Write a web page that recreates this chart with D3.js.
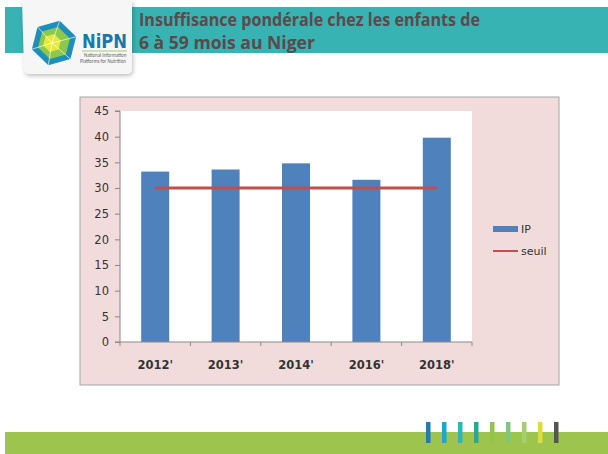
<!DOCTYPE html>
<html>
<head>
<meta charset="utf-8">
<script src="https://cdn.jsdelivr.net/npm/d3@7"></script>
<style>
  body { margin: 0; background: #fff; }
  svg { display: block; font-family: Calibri, Carlito, "Liberation Sans", Arial, sans-serif; }
</style>
</head>
<body>
<div id="chart"></div>
<script>
// Data
const years = ["2012'", "2013'", "2014'", "2016'", "2018'"]
const ipValues = [33.2, 33.6, 34.8, 31.6, 39.8]
const seuilValues = [30, 30, 30, 30, 30]
const yTicks = [0, 5, 10, 15, 20, 25, 30, 35, 40, 45]
const titleLines = ['Insuffisance pondérale chez les enfants de', '6 à 59 mois au Niger']
const stripeColors = ['#1b7fb1', '#1ea7c9', '#2cb6b6', '#2aa78f', '#93c54b', '#7ec77c', '#a3cf6c', '#dadd3d', '#555555']

const width = 608
const height = 454

const svg = d3.select('#chart')
  .append('svg')
  .attr('width', width)
  .attr('height', height)

// Header band
svg.append('rect')
  .attr('x', 5).attr('y', 7)
  .attr('width', width - 5).attr('height', 46)
  .attr('fill', '#37b3b4')

// Logo card with soft shadow
const defs = svg.append('defs')
const shadow = defs.append('filter').attr('id', 'shadow')
shadow.append('feDropShadow')
  .attr('dx', 1).attr('dy', 2).attr('stdDeviation', 2)
  .attr('flood-color', '#000').attr('flood-opacity', 0.25)

svg.append('path')
  .attr('d', 'M22,0 L132,0 L132,68 Q132,74 126,74 L30,74 Q24,74 24,68 Z')
  .attr('fill', '#f6f6f6')
  .attr('filter', 'url(#shadow)')

// Hexagon logo
const hex = svg.append('g').attr('transform', 'translate(54,43)')
const hexPts = d3.range(6).map(i => {
  const a = Math.PI / 3 * i - Math.PI / 2 + 0.25
  return [Math.cos(a) * 23, Math.sin(a) * 23]
})
hex.append('polygon').attr('points', hexPts.join(' ')).attr('fill', '#1d8fb8')
const inner = hexPts.map(p => [p[0] * 0.72, p[1] * 0.72])
hex.append('polygon').attr('points', inner.join(' ')).attr('fill', '#8cc84b')
const inner2 = hexPts.map(p => [p[0] * 0.4 - 2, p[1] * 0.4])
hex.append('polygon').attr('points', inner2.join(' ')).attr('fill', '#e6e93c')
hexPts.forEach(p => {
  hex.append('line')
    .attr('x1', -2).attr('y1', 0)
    .attr('x2', p[0]).attr('y2', p[1])
    .attr('stroke', '#fff').attr('stroke-width', 0.8).attr('opacity', 0.8)
})

svg.append('text')
  .text('NiPN')
  .attr('x', 82).attr('y', 48)
  .attr('font-size', 20).attr('font-weight', 'bold')
  .attr('font-family', '"DejaVu Sans", sans-serif')
  .attr('textLength', 45).attr('lengthAdjust', 'spacingAndGlyphs')
  .attr('fill', '#1a78ad')
svg.append('line')
  .attr('x1', 82).attr('x2', 127).attr('y1', 51).attr('y2', 51)
  .attr('stroke', '#8cc84b').attr('stroke-width', 0.8)
svg.append('text')
  .text('National Information')
  .attr('x', 84).attr('y', 57)
  .attr('font-size', 5).attr('fill', '#666')
svg.append('text')
  .text('Platforms for Nutrition')
  .attr('x', 80).attr('y', 63)
  .attr('font-size', 5).attr('fill', '#666')

// Title
svg.selectAll('.title')
  .data(titleLines)
  .join('text')
  .attr('class', 'title')
  .text(d => d)
  .attr('x', 139)
  .attr('y', (d, i) => 26 + i * 23)
  .attr('font-family', '"Open Sans", "DejaVu Sans", sans-serif')
  .attr('font-weight', 'bold')
  .attr('font-size', 18)
  .attr('textLength', (d, i) => i === 0 ? 341 : 176)
  .attr('lengthAdjust', 'spacingAndGlyphs')
  .attr('fill', '#5b4a4c')

// Chart frame
svg.append('rect')
  .attr('x', 80).attr('y', 97)
  .attr('width', 479).attr('height', 288)
  .attr('fill', '#f2dcdb')
  .attr('stroke', '#a6a6a6')
  .attr('stroke-width', 1)

const plot = { left: 120, top: 111, right: 472, bottom: 342 }

svg.append('rect')
  .attr('x', plot.left).attr('y', plot.top)
  .attr('width', plot.right - plot.left)
  .attr('height', plot.bottom - plot.top)
  .attr('fill', '#fff')

const xc = d3.scalePoint()
  .domain(years)
  .range([plot.left, plot.right])
  .padding(0.5)

const y = d3.scaleLinear()
  .domain([0, 45])
  .range([plot.bottom, plot.top])

// Bars
svg.selectAll('.bar')
  .data(ipValues)
  .join('rect')
  .attr('class', 'bar')
  .attr('x', (d, i) => xc(years[i]) - 14)
  .attr('width', 28)
  .attr('y', d => y(d))
  .attr('height', d => y(0) - y(d))
  .attr('fill', '#4f81bd')

// Seuil line
const line = d3.line()
  .x((d, i) => xc(years[i]))
  .y(d => y(d))

svg.append('path')
  .datum(seuilValues)
  .attr('d', line)
  .attr('fill', 'none')
  .attr('stroke', '#c0504d')
  .attr('stroke-width', 3)

// Y axis
const yAxis = svg.append('g')
  .attr('transform', `translate(${plot.left},0)`)
  .call(d3.axisLeft(y).tickValues(yTicks).tickSize(5).tickPadding(6))
yAxis.select('.domain').attr('stroke', '#888').attr('d', `M-5,${plot.top}H0V${plot.bottom}H-5`)
yAxis.selectAll('.tick line').attr('stroke', '#888')
yAxis.selectAll('text')
  .attr('font-size', 11.5)
  .attr('font-family', '"DejaVu Sans", sans-serif')
  .attr('fill', '#333')

// X axis with boundary ticks
const xAxis = svg.append('g')
  .attr('transform', `translate(0,${plot.bottom})`)
const bounds = d3.range(years.length + 1).map(i => plot.left + i * (plot.right - plot.left) / years.length)
xAxis.append('line')
  .attr('x1', plot.left).attr('x2', plot.right)
  .attr('stroke', '#888')
xAxis.selectAll('.xt')
  .data(bounds)
  .join('line')
  .attr('x1', d => d).attr('x2', d => d)
  .attr('y1', 0).attr('y2', 4)
  .attr('stroke', '#888')
xAxis.selectAll('.xl')
  .data(years)
  .join('text')
  .text(d => d)
  .attr('x', d => xc(d))
  .attr('y', 27)
  .attr('text-anchor', 'middle')
  .attr('font-size', 11.5)
  .attr('font-weight', 'bold')
  .attr('font-family', '"DejaVu Sans", sans-serif')
  .attr('fill', '#333')

// Legend
const legend = svg.append('g').attr('transform', 'translate(493,229)')
legend.append('rect')
  .attr('x', 0).attr('y', -3)
  .attr('width', 25).attr('height', 6)
  .attr('fill', '#4f81bd')
legend.append('text')
  .text('IP')
  .attr('x', 28).attr('y', 4)
  .attr('font-size', 11)
  .attr('font-family', '"DejaVu Sans", sans-serif')
  .attr('fill', '#333')
legend.append('line')
  .attr('x1', 0).attr('x2', 25)
  .attr('y1', 22).attr('y2', 22)
  .attr('stroke', '#c0504d').attr('stroke-width', 2)
legend.append('text')
  .text('seuil')
  .attr('x', 28).attr('y', 26)
  .attr('font-size', 11)
  .attr('font-family', '"DejaVu Sans", sans-serif')
  .attr('fill', '#333')

// Footer band
svg.append('rect')
  .attr('x', 5).attr('y', 432)
  .attr('width', width - 5).attr('height', 22)
  .attr('fill', '#9dc44d')

const stripeX = d3.scalePoint()
  .domain(d3.range(stripeColors.length))
  .range([428, 556])

svg.selectAll('.stripe')
  .data(stripeColors)
  .join('rect')
  .attr('class', 'stripe')
  .attr('x', (d, i) => stripeX(i) - 2)
  .attr('y', 422)
  .attr('width', 4.5)
  .attr('height', 21)
  .attr('fill', d => d)
</script>
</body>
</html>
